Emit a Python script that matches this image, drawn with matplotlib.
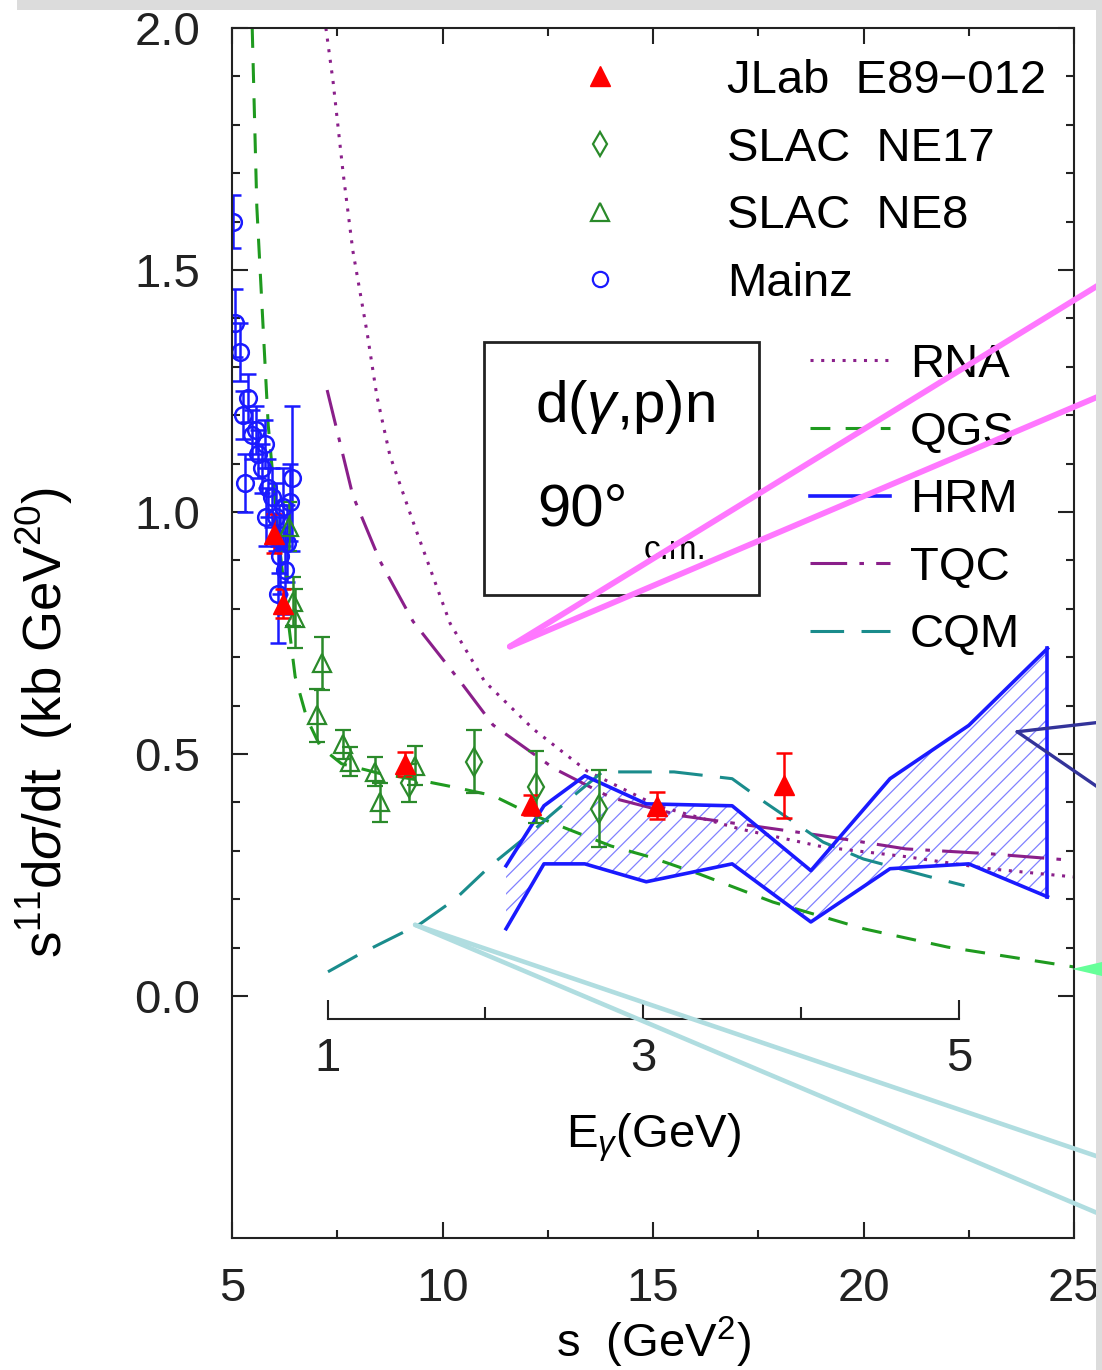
import numpy as np
import matplotlib.pyplot as plt
from matplotlib.lines import Line2D
from matplotlib.patches import Rectangle, Polygon

plt.rcParams['font.family'] = ['Liberation Sans', 'DejaVu Sans']
plt.rcParams['mathtext.fontset'] = 'custom'
plt.rcParams['mathtext.rm'] = 'Liberation Sans'
plt.rcParams['mathtext.it'] = 'Liberation Sans:italic'
plt.rcParams['hatch.linewidth'] = 0.9

# --- data ---
# JLab E89-012
jlab_s = [6.0, 6.2, 9.1, 12.1, 15.1, 18.1]
jlab_v = [0.955, 0.81, 0.48, 0.395, 0.393, 0.435]
jlab_err = [0.04, 0.03, 0.025, 0.02, 0.028, 0.068]

# SLAC NE17
ne17_s = [9.2, 10.75, 12.22, 13.72]
ne17_v = [0.44, 0.484, 0.432, 0.387]
ne17_err = [0.04, 0.065, 0.075, 0.08]

# SLAC NE8
ne8_s = [6.35, 6.45, 6.5, 7.02, 7.14, 7.64, 7.80, 8.40, 8.52, 9.35]
ne8_v = [0.97, 0.815, 0.78, 0.58, 0.687, 0.52, 0.484, 0.463, 0.40, 0.476]
ne8_err = [0.05, 0.05, 0.06, 0.055, 0.055, 0.03, 0.03, 0.03, 0.04, 0.04]

# Mainz
mainz_s = [5.02, 5.07, 5.19, 5.26, 5.38, 5.31, 5.47, 5.57, 5.62, 5.71, 5.78, 5.86,
           5.81, 5.95, 6.05, 6.12, 6.21, 6.43, 6.38, 6.14, 6.26, 6.09, 6.31]
mainz_v = [1.60, 1.39, 1.33, 1.20, 1.235, 1.06, 1.16, 1.17, 1.12, 1.09, 1.14, 1.05,
           0.99, 1.03, 0.99, 0.945, 1.01, 1.07, 1.02, 0.91, 0.88, 0.83, 0.935]
mainz_err = [0.055, 0.07, 0.06, 0.05, 0.05, 0.06, 0.05, 0.05, 0.05, 0.05, 0.05, 0.06,
             0.06, 0.06, 0.07, 0.07, 0.08, 0.15, 0.08, 0.08, 0.09, 0.10, 0.08]

# model curves
rna_s = [7.23, 7.40, 7.64, 7.87, 8.21, 8.44, 8.75, 9.3, 10.18, 11.0, 12.15, 13.43,
         15.1, 17.07, 19.04, 21.0, 22.98, 25.0]
rna_v = [2.0, 1.89, 1.70, 1.54, 1.37, 1.24, 1.117, 0.98, 0.77, 0.65, 0.552, 0.465,
         0.393, 0.345, 0.308, 0.288, 0.263, 0.246]

qgs_s = [5.48, 5.59, 5.86, 6.1, 6.3, 6.5, 6.78, 7.1, 7.6, 8.5, 9.5, 10.25, 11.2,
         12.0, 12.65, 14.0, 14.9, 16.1, 17.85, 20.0, 22.0, 25.0]
qgs_v = [2.0, 1.63, 1.18, 0.95, 0.80, 0.66, 0.573, 0.515, 0.48, 0.46, 0.445, 0.432,
         0.414, 0.38, 0.356, 0.31, 0.288, 0.252, 0.194, 0.139, 0.101, 0.06]

tqc_s = [7.26, 7.87, 8.52, 9.30, 10.42, 11.2, 12.65, 14.0, 15.7, 17.5, 19.04, 21.0,
         22.98, 25.0]
tqc_v = [1.252, 1.034, 0.898, 0.774, 0.65, 0.56, 0.47, 0.41, 0.372, 0.35, 0.331,
         0.304, 0.294, 0.28]

cqm_s = [7.28, 8.0, 8.5, 9.47, 10.3, 11.15, 12.0, 12.55, 13.2, 13.8, 15.5, 16.88,
         17.66, 19.04, 20.0, 21.5, 22.4]
cqm_v = [0.05, 0.085, 0.107, 0.149, 0.2, 0.27, 0.33, 0.372, 0.42, 0.463, 0.463,
         0.449, 0.40, 0.318, 0.283, 0.248, 0.228]

hrm_s = [11.51, 12.41, 13.38, 14.84, 16.88, 18.75, 20.63, 22.5, 24.37]
hrm_hi = [0.269, 0.393, 0.455, 0.397, 0.393, 0.259, 0.449, 0.559, 0.718]
hrm_lo = [0.139, 0.273, 0.273, 0.236, 0.273, 0.153, 0.263, 0.273, 0.205]

MD = 1.8756  # deuteron mass, s = MD^2 + 2 MD E


def s_to_e(s):
    return (np.asarray(s) - MD**2) / (2 * MD)


def e_to_s(e):
    return MD**2 + 2 * MD * np.asarray(e)


purple = '#8a1f8a'
green_line = '#1f9a1f'
green = '#2a8a2a'
teal = '#1a8c8c'
blue = '#1a1aff'
FS = 34

fig = plt.figure(figsize=(11.02, 13.70), dpi=100)
ax = fig.add_axes([232 / 1102, 1 - 1238 / 1370, 842 / 1102, 1210 / 1370])

# model curves
l_rna, = ax.plot(rna_s, rna_v, color=purple, lw=2.2, ls=(0, (1, 2.5)))
l_qgs, = ax.plot(qgs_s, qgs_v, color=green_line, lw=2.2, ls=(0, (6.5, 5)))
l_tqc, = ax.plot(tqc_s, tqc_v, color=purple, lw=2.2, ls=(0, (12, 4, 1.5, 4)))
l_cqm, = ax.plot(cqm_s, cqm_v, color=teal, lw=2.2, ls=(0, (11, 5.7)))
ax.fill_between(hrm_s, hrm_lo, hrm_hi, facecolor='none', edgecolor='#8080ff',
                linewidth=0, hatch='//')
l_hrm, = ax.plot(hrm_s, hrm_hi, color=blue, lw=2.6)
ax.plot(hrm_s, hrm_lo, color=blue, lw=2.6)
ax.plot([hrm_s[-1], hrm_s[-1]], [hrm_lo[-1], hrm_hi[-1]], color=blue, lw=2.6)

# data
ebkw = dict(capsize=6, elinewidth=1.8, capthick=1.8, ls='none')
ax.errorbar(mainz_s, mainz_v, yerr=mainz_err, fmt='o', ms=12, mfc='none',
            mec=blue, mew=1.8, color=blue, **ebkw)
ax.errorbar(ne8_s, ne8_v, yerr=ne8_err, fmt='^', ms=13, mfc='none',
            mec=green, mew=1.6, color=green, **ebkw)
ax.errorbar(ne17_s, ne17_v, yerr=ne17_err, fmt='d', ms=14, mfc='none',
            mec=green, mew=1.6, color=green, **ebkw)
ax.errorbar(jlab_s, jlab_v, yerr=jlab_err, fmt='^', ms=14, mfc='red',
            mec='red', color='red', **ebkw)

ax.set_xlim(5, 25)
ax.set_ylim(-0.5, 2.0)
ax.set_xticks([5, 10, 15, 20, 25])
ax.set_xticks([7.5, 12.5, 17.5, 22.5], minor=True)
ax.set_yticks([0.0, 0.5, 1.0, 1.5, 2.0])
ax.set_yticks([v for v in np.arange(0.1, 2.0, 0.1) if abs(v * 2 - round(v * 2)) > 1e-6],
              minor=True)
ax.set_yticklabels(['0.0', '0.5', '1.0', '1.5', '2.0'])
ax.tick_params(which='both', direction='in', top=True, right=True, width=1.5,
               labelsize=FS, colors='#222222')
ax.tick_params(which='major', length=11.5)
ax.tick_params(which='minor', length=6)
ax.tick_params(axis='x', pad=21)
ax.tick_params(axis='y', pad=23)
for sp in ax.spines.values():
    sp.set_linewidth(1.5)
    sp.set_color('#222222')
ax.set_xlabel(r'$\mathregular{s\ \ (GeV^2)}$', fontsize=FS, labelpad=3)
ax.set_ylabel(r'$\mathregular{s^{11}d}\sigma\mathregular{/dt\ \ (kb\ GeV^{20})}$',
              fontsize=38)
ax.yaxis.set_label_coords(-0.186, 0.426)

# inner E_gamma axis
sec = ax.secondary_xaxis((-0.048 + 0.5) / 2.5, functions=(s_to_e, e_to_s))
sec.set_xticks([1, 3, 5])
sec.set_xticks([2, 4], minor=True)
sec.spines['bottom'].set_bounds(1, 5)
sec.spines['bottom'].set_linewidth(1.5)
sec.spines['bottom'].set_color('#222222')
sec.tick_params(which='both', direction='in', width=1.5, labelsize=FS, pad=13,
                colors='#222222')
sec.tick_params(which='major', length=14)
sec.tick_params(which='minor', length=9)
sec.set_xlabel(r'E$_\gamma$(GeV)', fontsize=FS, labelpad=22)

# legends
h1 = [Line2D([], [], ls='none', marker='^', ms=14, mfc='red', mec='red'),
      Line2D([], [], ls='none', marker='d', ms=12, mfc='none', mec=green, mew=1.6),
      Line2D([], [], ls='none', marker='^', ms=13, mfc='none', mec=green, mew=1.6),
      Line2D([], [], ls='none', marker='o', ms=11, mfc='none', mec=blue, mew=1.6)]
leg1 = ax.legend(h1, ['JLab  E89\u2212012', 'SLAC  NE17', 'SLAC  NE8', 'Mainz'],
                 loc='upper left', bbox_to_anchor=((576 - 232) / 842, (1238 - 59) / 1210),
                 frameon=False, fontsize=FS, borderpad=0, borderaxespad=0,
                 handlelength=1.0, handletextpad=2.2, labelspacing=0.5)
ax.add_artist(leg1)
ax.legend([l_rna, l_qgs, l_hrm, l_tqc, l_cqm], ['RNA', 'QGS', 'HRM', 'TQC', 'CQM'],
          loc='upper left', bbox_to_anchor=((810 - 232) / 842, (1238 - 343) / 1210),
          frameon=False, fontsize=FS, borderpad=0, borderaxespad=0,
          handlelength=1.69, handletextpad=0.42, labelspacing=0.5)

# reaction box
ax.add_patch(Rectangle((0.299, 0.531), 0.327, 0.2095, transform=ax.transAxes,
                       fill=False, lw=2, ec='#222222'))
ax.text(0.467, 0.687, r'd($\gamma$,p)n', transform=ax.transAxes, fontsize=42,
        ha='center', va='center')
ax.text(0.416, 0.602, '90\u00b0', transform=ax.transAxes, fontsize=43,
        ha='center', va='center')
ax.text(0.526, 0.568, 'c.m.', transform=ax.transAxes, fontsize=24,
        ha='center', va='center')

# callout lines pointing off the right edge
calls = [((11.6, 0.722), 1 - 283 / 1370, '#ff77ff', 4.2),
         ((11.6, 0.722), 1 - 395 / 1370, '#ff77ff', 4.2),
         ((23.65, 0.546), 1 - 722 / 1370, '#33339a', 2.4),
         ((23.65, 0.546), 1 - 790 / 1370, '#33339a', 2.4),
         ((9.35, 0.147), 1 - 1158 / 1370, '#b0dde0', 3.3),
         ((9.35, 0.147), 1 - 1215 / 1370, '#b0dde0', 3.3)]
for xy, yf, c, lw in calls:
    ax.annotate('', xy=xy, xycoords='data', xytext=(1.0, yf),
                textcoords='figure fraction',
                arrowprops=dict(arrowstyle='-', color=c, lw=lw, shrinkA=0, shrinkB=0),
                zorder=10)
fig.patches.append(Polygon([(1072 / 1102, 1 - 969 / 1370), (1.0, 1 - 962 / 1370),
                            (1.0, 1 - 976 / 1370)], closed=True,
                           transform=fig.transFigure, fc='#66ff99', ec='none', zorder=10))

# page background strips
fig.patches.append(Rectangle((17 / 1102, 1 - 10 / 1370), 1, 10 / 1370,
                             transform=fig.transFigure, fc='#dcdcdc', ec='none', zorder=5))
fig.patches.append(Rectangle((1096 / 1102, 0), 6 / 1102, 1, transform=fig.transFigure,
                             fc='#dcdcdc', ec='none', zorder=5))

fig.savefig('out.png', dpi=100)
